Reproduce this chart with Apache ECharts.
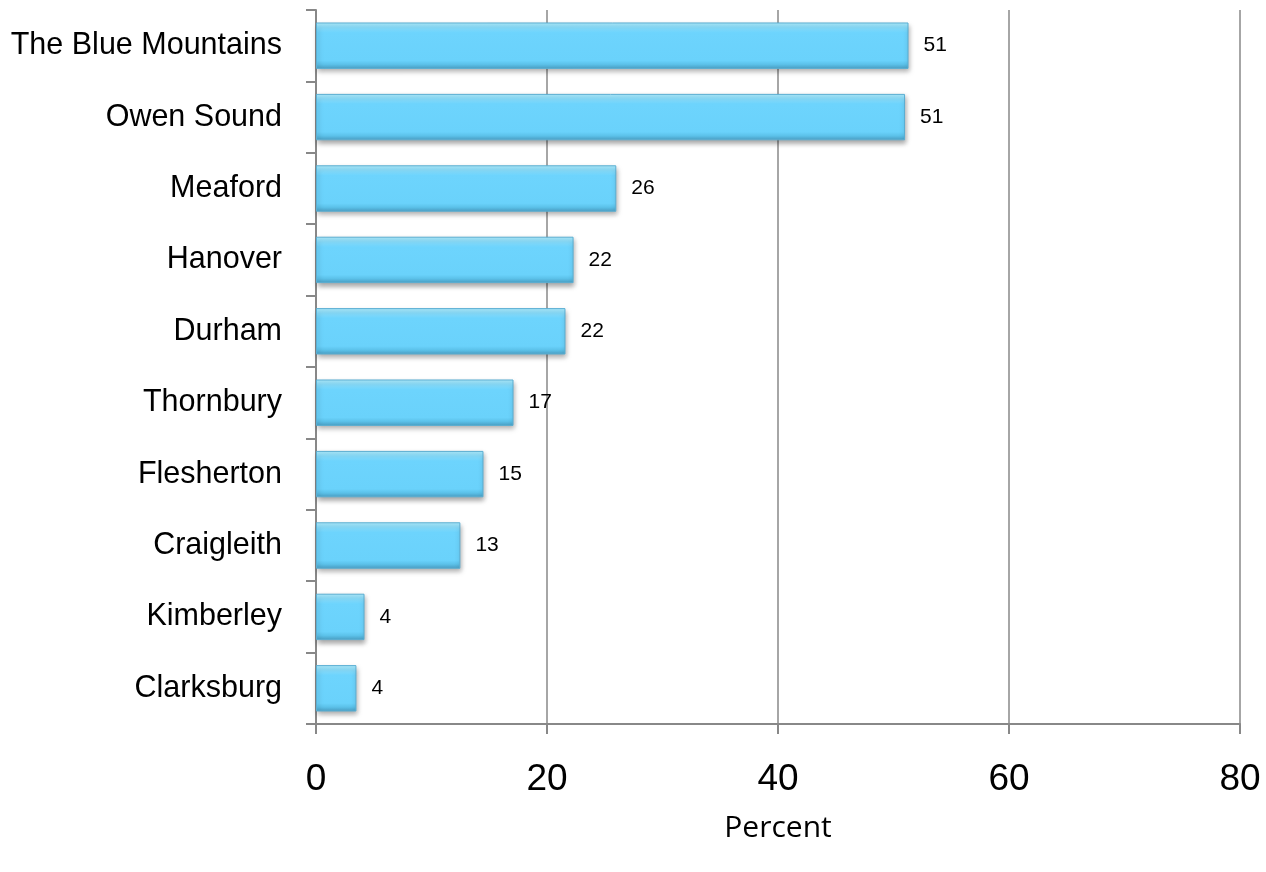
<!DOCTYPE html>
<html><head><meta charset="utf-8">
<script src="https://cdn.jsdelivr.net/npm/echarts@6/dist/echarts.min.js"></script>
<style>html,body{margin:0;padding:0;background:#fff}#c{width:1266px;height:872px}</style>
</head><body><div id="c"></div>
<script>
var categories = ["Clarksburg","Kimberley","Craigleith","Flesherton","Thornbury","Durham","Hanover","Meaford","Owen Sound","The Blue Mountains"];
var values = [3.5, 4.2, 12.5, 14.5, 17.1, 21.6, 22.3, 26.0, 51.0, 51.3];
var valueLabels = ["4","4","13","15","17","22","22","26","51","51"];
var xTicks = [0, 20, 40, 60, 80];
var xTitle = "Percent";

var chart = echarts.init(document.getElementById('c'));
chart.setOption({
  animation: false,
  grid: {left: 316, right: 26, top: 10, bottom: 148, containLabel: false, outerBoundsMode: 'none'},
  xAxis: {
    type: 'value', min: xTicks[0], max: xTicks[xTicks.length-1], interval: 20,
    name: xTitle, nameLocation: 'middle', nameGap: 89,
    nameTextStyle: {fontFamily: 'Open Sans', fontSize: 30, color: '#000'},
    axisLine: {show: true, lineStyle: {color: '#888', width: 2}},
    axisTick: {show: true, length: 10, lineStyle: {color: '#888', width: 2}},
    axisLabel: {fontFamily: 'Liberation Sans, Arial', fontSize: 37, color: '#000', margin: 37},
    splitLine: {show: true, lineStyle: {color: '#888', width: 1.5}}
  },
  yAxis: {
    type: 'category', data: categories,
    axisLine: {show: true, lineStyle: {color: '#888', width: 2}},
    axisTick: {show: true, length: 10, lineStyle: {color: '#888', width: 2}},
    axisLabel: {fontFamily: 'Liberation Sans, Arial', fontSize: 30.5, color: '#000', margin: 34}
  },
  series: [{
    type: 'bar', data: values, barCategoryGap: '35%',
    itemStyle: {
      color: new echarts.graphic.LinearGradient(0,0,0,1,[
        {offset:0, color:'#b0eeff'},
        {offset:0.12, color:'#86defe'},
        {offset:0.22, color:'#6dd4fd'},
        {offset:0.82, color:'#6ad2fb'},
        {offset:0.9, color:'#5cc2ea'},
        {offset:1, color:'#4a9fc4'}
      ]),
      borderColor: '#5aaed2', borderWidth: 1,
      shadowColor: 'rgba(0,0,0,0.35)', shadowBlur: 5, shadowOffsetY: 3, shadowOffsetX: 1
    },
    label: {
      show: true, position: 'right', distance: 15,
      fontFamily: 'Liberation Sans, Arial', fontSize: 21, color: '#000',
      formatter: function(p){ return valueLabels[p.dataIndex]; }
    }
  }]
});
</script></body></html>
